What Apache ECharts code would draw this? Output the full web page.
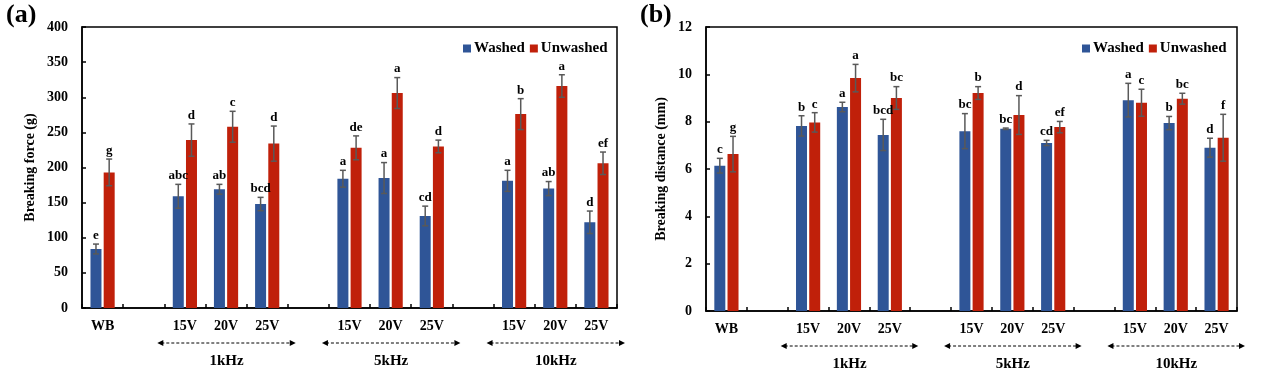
<!DOCTYPE html>
<html><head><meta charset="utf-8">
<script src="https://cdn.jsdelivr.net/npm/echarts@6/dist/echarts.min.js"></script>
<style>html,body{margin:0;padding:0;background:#fff}#c{width:1269px;height:390px}</style>
</head><body><div id="c"></div>
<script>
const categories = ['WB', '', '15V', '20V', '25V', '', '15V', '20V', '25V', '', '15V', '20V', '25V'];
const groupLabels = ['1kHz', '5kHz', '10kHz'];
const groupRanges = [[2, 4], [6, 8], [10, 12]];
const seriesNames = ['Washed', 'Unwashed'];

const forceTicks = { min: 0, max: 400, interval: 50 };
const forceWashed = [84, null, 159, 169, 148, null, 184, 185, 131, null, 181, 170, 122];
const forceWashedErr = [7, null, 17, 7, 9.5, null, 12, 22, 14, null, 15, 10, 16];
const forceWashedLetters = ['e', '', 'abc', 'ab', 'bcd', '', 'a', 'a', 'cd', '', 'a', 'ab', 'd'];
const forceUnwashed = [193, null, 239, 258, 234, null, 228, 306, 230, null, 276, 316, 206];
const forceUnwashedErr = [19, null, 23, 22, 25, null, 17, 22, 9, null, 22, 16, 16];
const forceUnwashedLetters = ['g', '', 'd', 'c', 'd', '', 'de', 'a', 'd', '', 'b', 'a', 'ef'];

const distTicks = { min: 0, max: 12, interval: 2 };
const distWashed = [6.14, null, 7.82, 8.62, 7.44, null, 7.6, 7.7, 7.1, null, 8.91, 7.94, 6.9];
const distWashedErr = [0.31, null, 0.43, 0.2, 0.66, null, 0.74, 0.03, 0.11, null, 0.71, 0.28, 0.4];
const distWashedLetters = ['c', '', 'b', 'a', 'bcd', '', 'bc', 'bc', 'cd', '', 'a', 'b', 'd'];
const distUnwashed = [6.63, null, 7.97, 9.84, 9.0, null, 9.21, 8.28, 7.77, null, 8.8, 8.97, 7.32];
const distUnwashedErr = [0.75, null, 0.41, 0.58, 0.48, null, 0.27, 0.82, 0.24, null, 0.57, 0.23, 0.99];
const distUnwashedLetters = ['g', '', 'c', 'a', 'bc', '', 'b', 'd', 'ef', '', 'c', 'bc', 'f'];

const FONT = "'Liberation Serif','Times New Roman',serif";
const BLUE = '#2F5597', RED = '#C0200A', ERR = '#595959';
const BW = 11, GAP = 0.2;
const OFF = (BW + BW * GAP) / 2;

const chart = echarts.init(document.getElementById('c'), null, { renderer: 'canvas' });

function errData(vals, errs) {
  const out = [];
  vals.forEach((v, i) => { if (v != null) out.push([i, v, errs[i]]); });
  return out;
}
function errSeries(name, axis, vals, errs, letters, dir) {
  return {
    type: 'custom', name: name, xAxisIndex: axis, yAxisIndex: axis, z: 5,
    data: errData(vals, errs),
    encode: { x: 0, y: 1 },
    renderItem: function (params, api) {
      const idx = api.value(0), m = api.value(1), e = api.value(2);
      const top = api.coord([idx, m + e]);
      const bot = api.coord([idx, m - e]);
      const x = top[0] + dir * OFF;
      const cap = 3;
      const st = { stroke: ERR, lineWidth: 1.5 };
      return {
        type: 'group', children: [
          { type: 'line', shape: { x1: x, y1: top[1], x2: x, y2: bot[1] }, style: st },
          { type: 'line', shape: { x1: x - cap, y1: top[1], x2: x + cap, y2: top[1] }, style: st },
          { type: 'line', shape: { x1: x - cap, y1: bot[1], x2: x + cap, y2: bot[1] }, style: st },
          { type: 'text', style: { text: letters[idx], x: x, y: top[1] - 2, align: 'center', verticalAlign: 'bottom', font: 'bold 13px ' + FONT, fill: '#000' } }
        ]
      };
    }
  };
}
function barSeries(name, axis, vals, color) {
  return { type: 'bar', name: name, xAxisIndex: axis, yAxisIndex: axis, data: vals, barWidth: BW, barGap: (GAP * 100) + '%', itemStyle: { color: color }, z: 2 };
}
function xAxis(grid) {
  return {
    type: 'category', gridIndex: grid, data: categories,
    axisLine: { lineStyle: { color: '#000', width: 1.5 } },
    axisTick: { show: true, inside: true, length: 4, interval: 0, lineStyle: { color: '#000', width: 1.5 } },
    axisLabel: { interval: 0, margin: 11, color: '#000', fontWeight: 'bold', fontSize: 14, fontFamily: FONT }
  };
}
function yAxis(grid, t, name, gap) {
  return {
    type: 'value', gridIndex: grid, min: t.min, max: t.max, interval: t.interval,
    name: name, nameLocation: 'middle', nameGap: gap,
    nameTextStyle: { color: '#000', fontWeight: 'bold', fontSize: 14, fontFamily: FONT },
    splitLine: { show: false },
    axisLine: { show: true, lineStyle: { color: '#000', width: 1.5 } },
    axisTick: { show: true, inside: true, length: 4, lineStyle: { color: '#000', width: 1.5 } },
    axisLabel: { margin: 14, color: '#000', fontWeight: 'bold', fontSize: 14, fontFamily: FONT }
  };
}
function legend(left) {
  return {
    data: seriesNames, left: left, top: 36, icon: 'rect', itemWidth: 8, itemHeight: 8, itemGap: 5,
    textStyle: { color: '#000', fontWeight: 'bold', fontSize: 15, fontFamily: FONT, padding: [0, 0, 0, -2] }
  };
}

chart.setOption({
  animation: false,
  grid: [
    { left: 82, top: 27, width: 535, height: 281, show: true, borderColor: '#000', borderWidth: 1.5, backgroundColor: 'transparent' },
    { left: 706, top: 27, width: 531, height: 284, show: true, borderColor: '#000', borderWidth: 1.5, backgroundColor: 'transparent' }
  ],
  legend: [legend(458), legend(1077)],
  xAxis: [xAxis(0), xAxis(1)],
  yAxis: [yAxis(0, forceTicks, 'Breaking force (g)', 45), yAxis(1, distTicks, 'Breaking distance (mm)', 38)],
  series: [
    barSeries('Washed', 0, forceWashed, BLUE),
    barSeries('Unwashed', 0, forceUnwashed, RED),
    barSeries('Washed', 1, distWashed, BLUE),
    barSeries('Unwashed', 1, distUnwashed, RED),
    errSeries('errA1', 0, forceWashed, forceWashedErr, forceWashedLetters, -1),
    errSeries('errA2', 0, forceUnwashed, forceUnwashedErr, forceUnwashedLetters, 1),
    errSeries('errB1', 1, distWashed, distWashedErr, distWashedLetters, -1),
    errSeries('errB2', 1, distUnwashed, distUnwashedErr, distUnwashedLetters, 1)
  ]
});

// annotations: frequency group arrows + panel labels, positioned from the axes
const graphics = [
  { type: 'text', left: 6, top: 2, style: { text: '(a)', font: 'bold 26px ' + FONT, fill: '#000' } },
  { type: 'text', left: 640, top: 2, style: { text: '(b)', font: 'bold 26px ' + FONT, fill: '#000' } }
];
[0, 1].forEach(function (g) {
  const c0 = chart.convertToPixel({ xAxisIndex: g }, 0);
  const c1 = chart.convertToPixel({ xAxisIndex: g }, 1);
  const cw = c1 - c0;
  const yb = chart.convertToPixel({ yAxisIndex: g }, 0);
  const ay = yb + 35, ty = yb + 53;
  groupRanges.forEach(function (r, k) {
    const xs = chart.convertToPixel({ xAxisIndex: g }, r[0]) - cw / 2 - 7;
    const xe = chart.convertToPixel({ xAxisIndex: g }, r[1]) + cw / 2 + 8;
    graphics.push({ type: 'line', shape: { x1: xs + 4, y1: ay, x2: xe - 4, y2: ay }, style: { stroke: '#000', lineWidth: 1, lineDash: [3, 2] } });
    graphics.push({ type: 'polygon', shape: { points: [[xs, ay], [xs + 6, ay - 3], [xs + 6, ay + 3]] }, style: { fill: '#000' } });
    graphics.push({ type: 'polygon', shape: { points: [[xe, ay], [xe - 6, ay - 3], [xe - 6, ay + 3]] }, style: { fill: '#000' } });
    graphics.push({ type: 'text', x: (xs + xe) / 2, y: ty, style: { text: groupLabels[k], align: 'center', verticalAlign: 'middle', font: 'bold 15px ' + FONT, fill: '#000' } });
  });
});
chart.setOption({ graphic: graphics });
</script></body></html>
